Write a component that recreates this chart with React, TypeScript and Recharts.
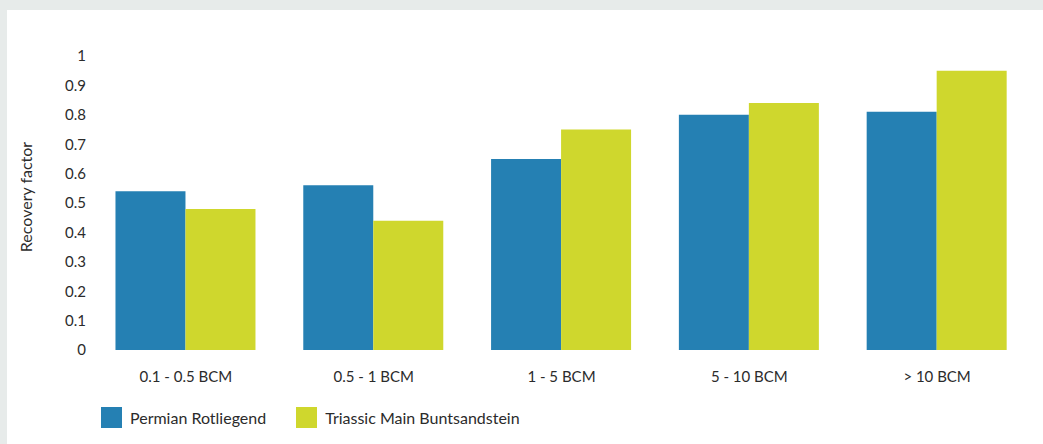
import { BarChart, Bar, XAxis, YAxis } from 'recharts';

const categories = ['0.1 - 0.5 BCM', '0.5 - 1 BCM', '1 - 5 BCM', '5 - 10 BCM', '> 10 BCM'];
const permian = [0.54, 0.56, 0.65, 0.8, 0.81];
const triassic = [0.48, 0.44, 0.75, 0.84, 0.95];
const yTicks = [0, 0.1, 0.2, 0.3, 0.4, 0.5, 0.6, 0.7, 0.8, 0.9, 1];

const series = [
  { key: 'permian', name: 'Permian Rotliegend', color: '#2580b3' },
  { key: 'triassic', name: 'Triassic Main Buntsandstein', color: '#cfd72d' },
];

const data = categories.map((name, i) => ({ name, permian: permian[i], triassic: triassic[i] }));

const font = 'Lato, "Open Sans", sans-serif';

function LegendBox() {
  return (
    <div
      style={{
        position: 'absolute',
        left: 94,
        top: 397,
        display: 'flex',
        fontFamily: font,
        fontSize: 16,
        color: '#2b2b2b',
        lineHeight: '21px',
      }}
    >
      {series.map((s) => (
        <div key={s.key} style={{ display: 'flex', alignItems: 'center', marginRight: 30 }}>
          <span style={{ width: 21, height: 21, background: s.color, display: 'inline-block', marginRight: 8 }} />
          <span>{s.name}</span>
        </div>
      ))}
    </div>
  );
}

export default function App() {
  return (
    <div style={{ position: 'fixed', left: 0, top: 0, width: 1043, height: 444, background: '#e7ebea' }}>
      <div style={{ position: 'absolute', left: 7, top: 10, width: 1036, height: 434, background: '#fff' }}>
        <BarChart
          width={1036}
          height={434}
          data={data}
          margin={{ top: 46, right: 12, bottom: 64, left: 25 }}
          barCategoryGap="12.5%"
          barGap={0}
        >
          <XAxis
            dataKey="name"
            axisLine={false}
            tickLine={false}
            tickSize={0}
            tickMargin={21}
            tick={{ fill: '#2b2b2b', fontSize: 15, fontFamily: font }}
            interval={0}
          />
          <YAxis
            width={60}
            domain={[0, 1]}
            ticks={yTicks}
            axisLine={false}
            tickLine={false}
            tickSize={0}
            tickMargin={6}
            tick={{ fill: '#2b2b2b', fontSize: 15, fontFamily: font }}
            label={{
              value: 'Recovery factor',
              angle: -90,
              position: 'insideLeft',
              dx: -11,
              dy: -6,
              style: { textAnchor: 'middle', fill: '#2b2b2b', fontSize: 16, fontFamily: font },
            }}
          />
          {series.map((s) => (
            <Bar key={s.key} dataKey={s.key} name={s.name} fill={s.color} isAnimationActive={false} />
          ))}
        </BarChart>
        <LegendBox />
      </div>
    </div>
  );
}
